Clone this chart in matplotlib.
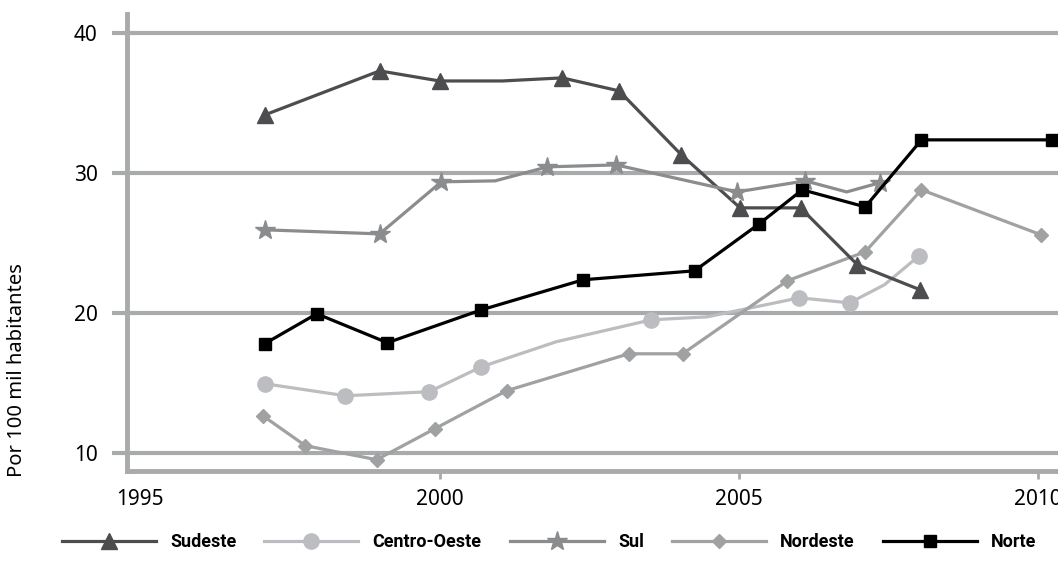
import matplotlib
matplotlib.use("Agg")
import matplotlib.pyplot as plt

# ---- data ----
sudeste_x = [1997.08, 1999.0, 2000.0, 2001.05, 2002.05, 2003.0, 2004.04, 2005.02, 2006.03, 2006.98, 2008.03]
sudeste_y = [34.14, 37.29, 36.57, 36.57, 36.79, 35.86, 31.29, 27.5, 27.5, 23.43, 21.64]
sudeste_marks = [0, 1, 2, 4, 5, 6, 7, 8, 9, 10]

centro_x = [1997.08, 1998.43, 1999.83, 2000.7, 2001.95, 2003.54, 2004.47, 2006.01, 2006.85, 2007.43, 2008.01]
centro_y = [14.93, 14.07, 14.36, 16.14, 17.93, 19.5, 19.71, 21.07, 20.71, 22.0, 24.07]
centro_marks = [0, 1, 2, 3, 5, 7, 8, 10]

sul_x = [1997.08, 1999.0, 2000.03, 2000.93, 2001.8, 2002.95, 2004.97, 2006.11, 2006.8, 2007.35]
sul_y = [25.93, 25.64, 29.36, 29.43, 30.43, 30.57, 28.64, 29.43, 28.64, 29.29]
sul_marks = [0, 1, 2, 4, 5, 6, 7, 9]

nordeste_x = [1997.05, 1997.76, 1998.95, 1999.92, 2001.12, 2003.16, 2004.06, 2005.81, 2007.11, 2008.05, 2010.05]
nordeste_y = [12.64, 10.5, 9.5, 11.71, 14.43, 17.07, 17.07, 22.29, 24.36, 28.79, 25.57]

norte_x = [1997.08, 1997.95, 1999.13, 2000.7, 2002.4, 2004.26, 2005.34, 2006.06, 2007.11, 2008.05, 2010.23]
norte_y = [17.79, 19.93, 17.86, 20.21, 22.36, 23.0, 26.36, 28.79, 27.57, 32.36, 32.36]

y_ticks = [10, 20, 30, 40]
x_ticks = [1995, 2000, 2005, 2010]
y_label = "Por 100 mil habitantes"

# ---- style ----
grid_c = "#a9aaac"
plt.rcParams['font.family'] = ['Noto Sans', 'DejaVu Sans']

fig = plt.figure(figsize=(10.58, 5.81), dpi=100)
ax = fig.add_axes([0.12, 0.19, 0.88, 0.786])

ax.set_xlim(1994.78, 2010.33)
ax.set_ylim(8.72, 41.36)

for yv in y_ticks:
    ax.axhline(yv, color=grid_c, lw=3, zorder=1)

lw = 2.3
l_co, = ax.plot(centro_x, centro_y, color="#bcbdc0", lw=lw, marker="o", ms=11,
                markevery=centro_marks, label="Centro-Oeste", zorder=3)
l_ne, = ax.plot(nordeste_x, nordeste_y, color="#a0a1a3", lw=lw, marker="D", ms=7,
                label="Nordeste", zorder=4)
l_se, = ax.plot(sudeste_x, sudeste_y, color="#4d4d4f", lw=lw, marker="^", ms=11,
                markevery=sudeste_marks, label="Sudeste", zorder=5)
l_su, = ax.plot(sul_x, sul_y, color="#8b8c8e", lw=lw, marker="*", ms=15,
                markevery=sul_marks, label="Sul", zorder=6)
l_no, = ax.plot(norte_x, norte_y, color="#000000", lw=lw, marker="s", ms=8,
                label="Norte", zorder=7, clip_on=False)

for s in ["top", "right"]:
    ax.spines[s].set_visible(False)
for s in ["left", "bottom"]:
    ax.spines[s].set_color(grid_c)
    ax.spines[s].set_linewidth(3.5)

ax.set_yticks(y_ticks)
ax.set_xticks(x_ticks)
ax.tick_params(axis="y", length=11, width=3, color=grid_c, pad=10, labelsize=15)
ax.tick_params(axis="x", length=6, width=2, color=grid_c, pad=7, labelsize=15)
ax.xaxis.get_major_ticks()[0].tick1line.set_visible(False)

fig.text(17/1058, 1 - 370/581, y_label, rotation=90, ha="center", va="center", fontsize=14.5)

handles = [l_se, l_co, l_su, l_ne, l_no]
leg = fig.legend(handles=handles, labels=[h.get_label() for h in handles],
                 loc="center", bbox_to_anchor=(0.519, 1 - 542/581), ncol=5, frameon=False,
                 handlelength=5.2, handletextpad=0.8, columnspacing=1.55,
                 prop={"family": ["Roboto", "DejaVu Sans"], "weight": "bold", "size": 13})

fig.savefig("out.png", dpi=100)
